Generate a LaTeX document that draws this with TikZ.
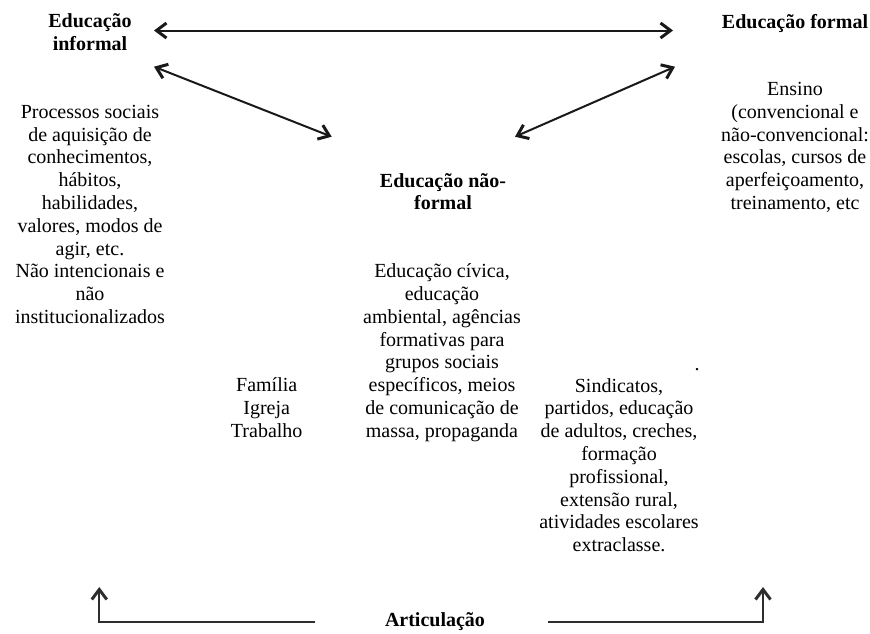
\documentclass[tikz,border=0pt]{standalone}
\usepackage{fontspec}
\setmainfont{Liberation Serif}
\usetikzlibrary{arrows.meta}
\begin{document}
\begin{tikzpicture}[x=1pt,y=-1pt,
  txt/.style={align=center, font=\fontsize{20}{22.8}\selectfont, inner sep=0pt,
    execute at begin node=\strut, execute at end node=\strut},
  head/.style={txt, font=\fontsize{20}{22.8}\selectfont\bfseries},
  tipb/.tip={Straight Barb[length=10pt,width=15pt,line width=3pt]},
  link/.style={line width=2pt, draw=black!90, tipb-tipb},
  uplink/.style={line width=2pt, draw=black!82, -tipb}
]
\useasboundingbox (0,0) rectangle (870,633);

% headings
\node[head] (inf) at (90,35.5) {Educação\\informal};
\node[head] (form) at (795,24.2) {Educação formal};
\node[head] (naof) at (443,195) {Educação não-\\formal};
\node[head, execute at begin node={}, execute at end node={}] (art) at (435,622) {Articulação};

% texts
\node[txt] (proc) at (90,217.7) {Processos sociais\\de aquisição de\\conhecimentos,\\hábitos,\\habilidades,\\valores, modos de\\agir, etc.\\Não intencionais e\\não\\institucionalizados};
\node[txt] (ens) at (795,149.2) {Ensino\\(convencional e\\não-convencional:\\escolas, cursos de\\aperfeiçoamento,\\treinamento, etc};
\node[txt] (civ) at (442,353.9) {Educação cívica,\\educação\\ambiental, agências\\formativas para\\grupos sociais\\específicos, meios\\de comunicação de\\massa, propaganda};
\node[txt] (fam) at (266.7,411) {Família\\Igreja\\Trabalho};
\node[txt] (sind) at (619,468.3) {Sindicatos,\\partidos, educação\\de adultos, creches,\\formação\\profissional,\\extensão rural,\\atividades escolares\\extraclasse.};
\node[font=\fontsize{20}{22.8}\selectfont, inner sep=0pt, anchor=base] (dot) at (697,370.5) {.};

% connector ends
\coordinate (tL) at (154,30.5);
\coordinate (tR) at (673,30.5);
\coordinate (dL1) at (154,66.7);
\coordinate (dL2) at (331.7,136.7);
\coordinate (dR1) at (675,66.7);
\coordinate (dR2) at (515,136.7);
\coordinate (bL) at (315,622);
\coordinate (bLup) at (99.3,587);
\coordinate (bR) at (548,622);
\coordinate (bRup) at (763,587);

\draw[link] (tL) -- (tR);
\draw[link] (dL1) -- (dL2);
\draw[link] (dR1) -- (dR2);
\draw[uplink] (bL) -| (bLup);
\draw[uplink] (bR) -| (bRup);
\end{tikzpicture}
\end{document}
